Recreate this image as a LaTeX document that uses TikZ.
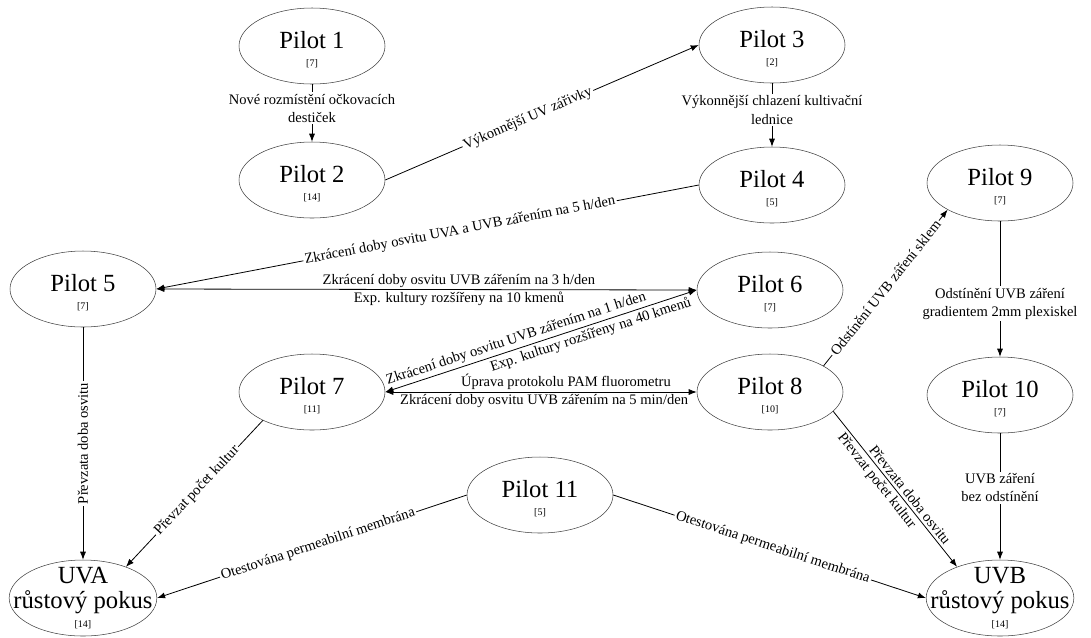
\documentclass[tikz,border=0pt]{standalone}
\usepackage{fontspec}
\setmainfont{Liberation Serif}
\usetikzlibrary{arrows.meta, shapes.geometric}
\newcommand*{\runs}[1]{{\fontsize{7.5pt}{9pt}\selectfont[#1]}}
\newcommand*{\lift}{\rule{0pt}{18pt}}
\tikzstyle{pilot} = [draw=black!75, ellipse, minimum width=109.5pt, minimum height=57pt, inner sep=0pt, align=center, font=\fontsize{18.5pt}{19pt}\selectfont]
\tikzstyle{result} = [pilot, inner xsep=-13pt, inner ysep=-3pt]
\tikzstyle{note} = [font=\fontsize{10.9pt}{14pt}\selectfont, inner sep=1.2pt, align=center]
\tikzstyle{cut} = [note, fill=white]
\tikzstyle{link} = [-{Latex[length=6pt, width=4.5pt]}, line width=0.6pt]
\tikzstyle{both} = [{Latex[length=6pt, width=4.5pt]}-{Latex[length=6pt, width=4.5pt]}, line width=0.6pt]

\begin{document}
\begin{tikzpicture}[x=0.75pt, y=-0.75pt]
    \useasboundingbox (0,0) rectangle (1091,637);

    \foreach \i/\x/\y/\n in {1/312/46/7, 2/312/180/14, 3/772/45/2, 4/772/185/5,
        5/83/289/7, 6/770/290/7, 7/312/392/11, 8/770/392/10, 9/1000/183/7,
        10/1000/395/7, 11/540/495/5} {%
        \node (pilot \i) [pilot] at (\x,\y) {\lift Pilot \i\\[-5pt]\runs{\n}};
    }
    \node (uva) [result] at (83,598) {UVA\\růstový pokus\\[-5pt]\runs{14}};
    \node (uvb) [result] at (1000,598) {UVB\\růstový pokus\\[-5pt]\runs{14}};

    % Arrows.
    \draw [link] (pilot 1) -- node [cut, pos=0.42] {Nové rozmístění očkovacích\\destiček} (pilot 2);
    \draw [link] (pilot 2.east) -- node [cut, sloped, pos=0.455] {Výkonnější UV zářivky} (pilot 3.west);
    \draw [link] (pilot 3) -- node [cut, pos=0.42] {Výkonnější chlazení kultivační\\lednice} (pilot 4);
    \draw [link] (pilot 4.west) -- node [cut, sloped, pos=0.44] {Zkrácení doby osvitu UVA a UVB zářením na 5 h/den} (pilot 5.east);
    \draw [both] (pilot 5.east) -- node [note, above, pos=0.56] {Zkrácení doby osvitu UVB zářením na 3 h/den}
        node [note, below, pos=0.56] {Exp. kultury rozšířeny na 10 kmenů} (pilot 6.west);
    \draw [both] (pilot 7.east) -- node [note, sloped, above, inner sep=2pt, pos=0.43] {Zkrácení doby osvitu UVB zářením na 1 h/den}
        node [note, sloped, below, inner sep=2pt, pos=0.65] {Exp. kultury rozšířeny na 40 kmenů} (pilot 6.west);
    \draw [both] (pilot 7.east) -- node [note, above, pos=0.58] {Úprava protokolu PAM fluorometru}
        node [note, below, pos=0.51] {Zkrácení doby osvitu UVB zářením na 5 min/den} (pilot 8.west);
    \draw [link] (pilot 8.26) -- node [cut, sloped] {Odstínění UVB záření sklem} (pilot 9.207);
    \draw [link] (pilot 9) -- node [cut, pos=0.61] {Odstínění UVB záření\\gradientem 2mm plexiskel} (pilot 10);
    \draw [link] (pilot 10) -- node [cut, pos=0.43] {UVB záření\\bez odstínění} (uvb);
    \draw [link] (pilot 8.343) -- node [note, sloped, above, inner sep=2pt, pos=0.57] {Převzata doba osvitu}
        node [note, sloped, below, inner sep=2pt, pos=0.41] {Převzat počet kultur} (uvb.144);
    \draw [link] (pilot 5) -- node [cut, rotate=90] {Převzata doba osvitu} (uva);
    \draw [link] (pilot 7.210) -- node [cut, sloped, pos=0.48] {Převzat počet kultur} (uva.36);
    \draw [link] (pilot 11.west) -- node [cut, sloped, pos=0.48] {Otestována permeabilní membrána} (uva.east);
    \draw [link] (pilot 11.east) -- node [cut, sloped, pos=0.51] {Otestována permeabilní membrána} (uvb.west);
\end{tikzpicture}
\end{document}
